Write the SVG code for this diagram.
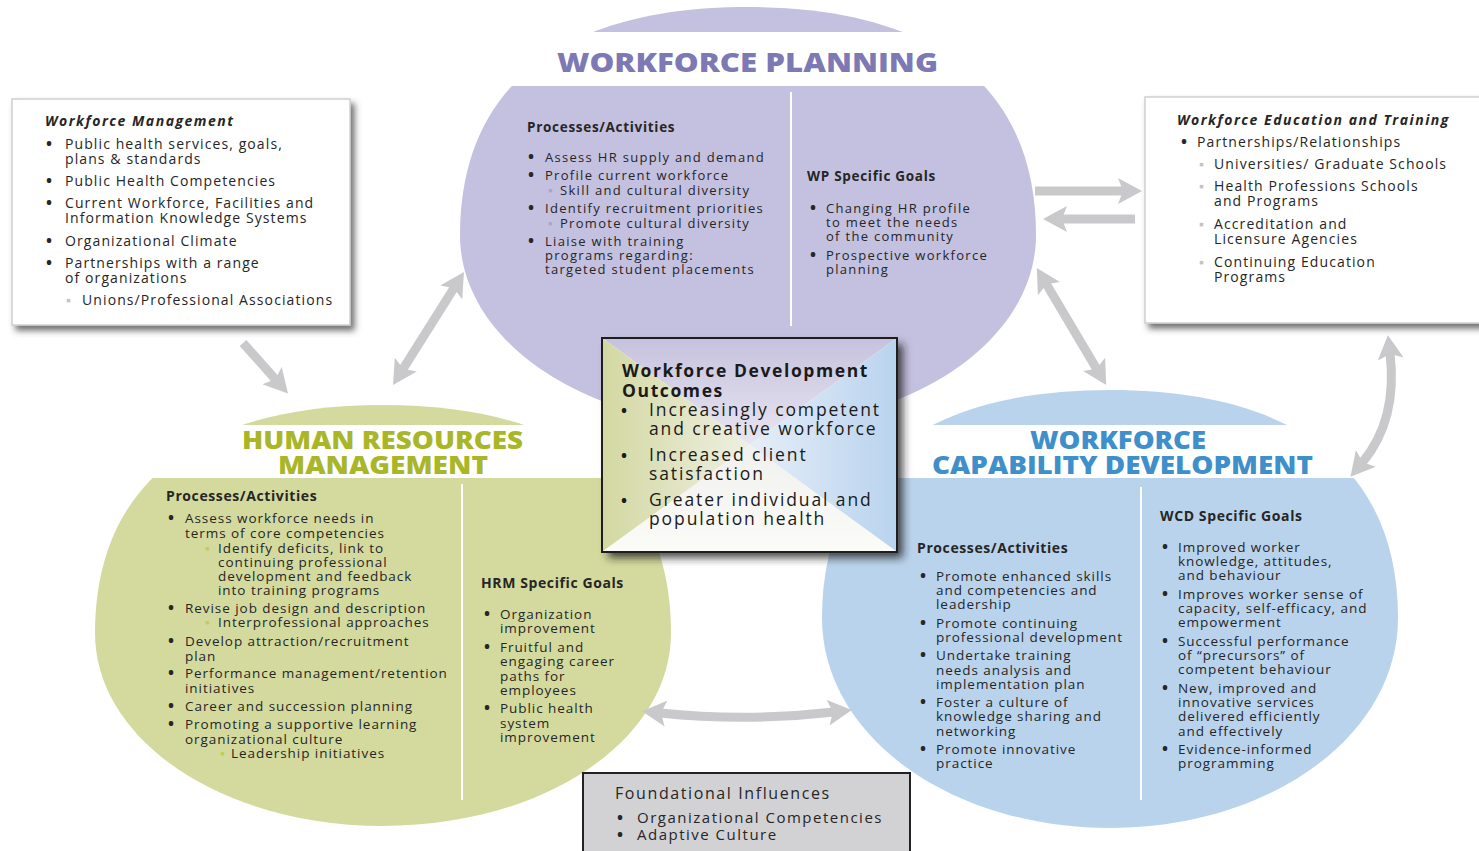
<svg xmlns="http://www.w3.org/2000/svg" width="1479" height="851" viewBox="0 0 1479 851">
  <defs>
    <style>
      text { font-family: "Open Sans", "Liberation Sans", sans-serif; fill: #262626; }
      .ttl { font-weight: 800; }
      .wp-ttl { fill: #7d79b5; font-size: 27px; }
      .hrm-ttl { fill: #a9b628; font-size: 25px; }
      .wcd-ttl { fill: #3f8fcb; font-size: 25px; }
      .box { font-size: 14px; letter-spacing: 1.1px; }
      .box-h { font-size: 14px; font-weight: 700; font-style: italic; letter-spacing: 1.5px; }
      .wp { font-size: 13px; letter-spacing: 1.3px; }
      .wp-h { font-size: 13.5px; font-weight: 700; letter-spacing: 0.7px; }
      .bd { font-size: 13.5px; letter-spacing: 0.95px; }
      .bd-h { font-size: 14px; font-weight: 700; letter-spacing: 0.6px; }
      .out { font-size: 17.5px; letter-spacing: 1.9px; fill: #1a1a1a; }
      .out-h { font-size: 17.5px; font-weight: 700; letter-spacing: 1.6px; fill: #1a1a1a; }
      .fnd-h { font-size: 16px; letter-spacing: 1.6px; }
      .fnd { font-size: 15px; letter-spacing: 1.5px; }
      text.b { font-weight: 700; font-size: 16px; letter-spacing: 0; }
      .sub-wp { fill: #a9a5cc; }
      .sub-hrm { fill: #c3cc55; }
      .sub-grey { fill: #c4c4c4; }
      .divider { stroke: #ffffff; stroke-width: 2; }
      .arrow { fill: none; stroke: #c9c9cb; stroke-width: 9; }
    </style>
    <filter id="shadow" x="-10%" y="-10%" width="125%" height="130%">
      <feDropShadow dx="4" dy="5" stdDeviation="3" flood-color="#444" flood-opacity="0.75"/>
    </filter>
    <filter id="shadowDark" x="-10%" y="-10%" width="125%" height="130%">
      <feDropShadow dx="6" dy="6" stdDeviation="4" flood-color="#222" flood-opacity="0.8"/>
    </filter>
    <marker id="head" viewBox="0 0 24 26" refX="6" refY="13" markerWidth="24" markerHeight="26" markerUnits="userSpaceOnUse" orient="auto-start-reverse">
      <path d="M0,0 L24,13 L0,26 L5,13 Z" fill="#c9c9cb"/>
    </marker>
    <!-- title bands cut through each circle -->
    <clipPath id="clipWP">
      <rect x="0" y="0" width="1479" height="32"/>
      <rect x="0" y="86" width="1479" height="765"/>
    </clipPath>
    <clipPath id="clipHRM">
      <rect x="0" y="0" width="1479" height="425"/>
      <rect x="0" y="478" width="1479" height="373"/>
    </clipPath>
    <clipPath id="clipWCD">
      <rect x="0" y="0" width="1479" height="425"/>
      <rect x="0" y="478" width="1479" height="373"/>
    </clipPath>
    <linearGradient id="gLeft" x1="602" y1="0" x2="750" y2="0" gradientUnits="userSpaceOnUse">
      <stop offset="0" stop-color="#d3d8a2"/>
      <stop offset="1" stop-color="#eef0e2"/>
    </linearGradient>
    <linearGradient id="gTop" x1="0" y1="338" x2="0" y2="445" gradientUnits="userSpaceOnUse">
      <stop offset="0" stop-color="#c6c2de"/>
      <stop offset="1" stop-color="#e8e6f1"/>
    </linearGradient>
    <linearGradient id="gRight" x1="897" y1="0" x2="750" y2="0" gradientUnits="userSpaceOnUse">
      <stop offset="0" stop-color="#b9d3ee"/>
      <stop offset="1" stop-color="#e6eef8"/>
    </linearGradient>
    <linearGradient id="gBottom" x1="0" y1="552" x2="0" y2="445" gradientUnits="userSpaceOnUse">
      <stop offset="0" stop-color="#fbfbf8"/>
      <stop offset="1" stop-color="#f0f0ee"/>
    </linearGradient>
  </defs>

  <rect width="1479" height="851" fill="#ffffff"/>

  <!-- Workforce Planning -->
  <g id="workforce-planning">
    <path clip-path="url(#clipWP)" fill="#c4c0df" d="M460,235 C460,87 561,7 748,7 C935,7 1036,87 1036,235 C1036,342 909,427 748,427 C587,427 460,342 460,235 Z"/>
    <line class="divider" x1="791" y1="92" x2="791" y2="326"/>
    <text class="ttl wp-ttl" x="557" y="72" textLength="381" lengthAdjust="spacingAndGlyphs">WORKFORCE PLANNING</text>
    <text class="wp-h" x="527" y="132">Processes/Activities</text>
    <g class="wp">
      <text class="b" x="528" y="162">•</text><text x="545" y="162">Assess HR supply and demand</text>
      <text class="b" x="528" y="180">•</text><text x="545" y="180">Profile current workforce</text>
      <text class="sub-wp" x="548" y="195">▪</text><text x="560" y="195">Skill and cultural diversity</text>
      <text class="b" x="528" y="213">•</text><text x="545" y="213">Identify recruitment priorities</text>
      <text class="sub-wp" x="548" y="228">▪</text><text x="560" y="228">Promote cultural diversity</text>
      <text class="b" x="528" y="246">•</text><text x="545" y="246">Liaise with training</text>
      <text x="545" y="260">programs regarding:</text>
      <text x="545" y="274">targeted student placements</text>
    </g>
    <text class="wp-h" x="807" y="181">WP Specific Goals</text>
    <g class="wp">
      <text class="b" x="810" y="213">•</text><text x="826" y="213">Changing HR profile</text>
      <text x="826" y="227">to meet the needs</text>
      <text x="826" y="241">of the community</text>
      <text class="b" x="810" y="260">•</text><text x="826" y="260">Prospective workforce</text>
      <text x="826" y="274">planning</text>
    </g>
  </g>

  <!-- Human Resources Management -->
  <g id="human-resources-management">
    <path clip-path="url(#clipHRM)" fill="#d4da9e" d="M95,633 C95,485 196,405 383,405 C570,405 671,485 671,633 C671,740 544,826 383,826 C222,826 95,740 95,633 Z"/>
    <line class="divider" x1="462" y1="484" x2="462" y2="800"/>
    <text class="ttl hrm-ttl" x="242" y="449" textLength="281" lengthAdjust="spacingAndGlyphs">HUMAN RESOURCES</text>
    <text class="ttl hrm-ttl" x="278" y="474" textLength="210" lengthAdjust="spacingAndGlyphs">MANAGEMENT</text>
    <text class="bd-h" x="166" y="501">Processes/Activities</text>
    <g class="bd">
      <text class="b" x="168" y="523">•</text><text x="185" y="523">Assess workforce needs in</text>
      <text x="185" y="538">terms of core competencies</text>
      <text class="sub-hrm" x="205" y="553">▪</text><text x="218" y="553">Identify deficits, link to</text>
      <text x="218" y="567">continuing professional</text>
      <text x="218" y="581">development and feedback</text>
      <text x="218" y="595">into training programs</text>
      <text class="b" x="168" y="613">•</text><text x="185" y="613">Revise job design and description</text>
      <text class="sub-hrm" x="205" y="627">▪</text><text x="218" y="627">Interprofessional approaches</text>
      <text class="b" x="168" y="646">•</text><text x="185" y="646">Develop attraction/recruitment</text>
      <text x="185" y="661">plan</text>
      <text class="b" x="168" y="678">•</text><text x="185" y="678">Performance management/retention</text>
      <text x="185" y="693">initiatives</text>
      <text class="b" x="168" y="711">•</text><text x="185" y="711">Career and succession planning</text>
      <text class="b" x="168" y="729">•</text><text x="185" y="729">Promoting a supportive learning</text>
      <text x="185" y="744">organizational culture</text>
      <text class="sub-hrm" x="220" y="758">▪</text><text x="231" y="758">Leadership initiatives</text>
    </g>
    <text class="bd-h" x="481" y="588">HRM Specific Goals</text>
    <g class="bd">
      <text class="b" x="484" y="619">•</text><text x="500" y="619">Organization</text>
      <text x="500" y="633">improvement</text>
      <text class="b" x="484" y="652">•</text><text x="500" y="652">Fruitful and</text>
      <text x="500" y="666">engaging career</text>
      <text x="500" y="681">paths for</text>
      <text x="500" y="695">employees</text>
      <text class="b" x="484" y="713">•</text><text x="500" y="713">Public health</text>
      <text x="500" y="728">system</text>
      <text x="500" y="742">improvement</text>
    </g>
  </g>

  <!-- Workforce Capability Development -->
  <g id="workforce-capability-development">
    <path clip-path="url(#clipWCD)" fill="#bad3ec" d="M822,618 C822,470 923,390 1110,390 C1297,390 1398,470 1398,618 C1398,735 1271,828 1110,828 C949,828 822,735 822,618 Z"/>
    <line class="divider" x1="1141" y1="487" x2="1141" y2="800"/>
    <text class="ttl wcd-ttl" x="1030" y="449" textLength="176" lengthAdjust="spacingAndGlyphs">WORKFORCE</text>
    <text class="ttl wcd-ttl" x="932" y="474" textLength="381" lengthAdjust="spacingAndGlyphs">CAPABILITY DEVELOPMENT</text>
    <text class="bd-h" x="917" y="553">Processes/Activities</text>
    <g class="bd">
      <text class="b" x="920" y="581">•</text><text x="936" y="581">Promote enhanced skills</text>
      <text x="936" y="595">and competencies and</text>
      <text x="936" y="609">leadership</text>
      <text class="b" x="920" y="628">•</text><text x="936" y="628">Promote continuing</text>
      <text x="936" y="642">professional development</text>
      <text class="b" x="920" y="660">•</text><text x="936" y="660">Undertake training</text>
      <text x="936" y="675">needs analysis and</text>
      <text x="936" y="689">implementation plan</text>
      <text class="b" x="920" y="707">•</text><text x="936" y="707">Foster a culture of</text>
      <text x="936" y="721">knowledge sharing and</text>
      <text x="936" y="736">networking</text>
      <text class="b" x="920" y="754">•</text><text x="936" y="754">Promote innovative</text>
      <text x="936" y="768">practice</text>
    </g>
    <text class="bd-h" x="1160" y="521">WCD Specific Goals</text>
    <g class="bd">
      <text class="b" x="1162" y="552">•</text><text x="1178" y="552">Improved worker</text>
      <text x="1178" y="566">knowledge, attitudes,</text>
      <text x="1178" y="580">and behaviour</text>
      <text class="b" x="1162" y="599">•</text><text x="1178" y="599">Improves worker sense of</text>
      <text x="1178" y="613">capacity, self-efficacy, and</text>
      <text x="1178" y="627">empowerment</text>
      <text class="b" x="1162" y="646">•</text><text x="1178" y="646">Successful performance</text>
      <text x="1178" y="660">of “precursors” of</text>
      <text x="1178" y="674">competent behaviour</text>
      <text class="b" x="1162" y="693">•</text><text x="1178" y="693">New, improved and</text>
      <text x="1178" y="707">innovative services</text>
      <text x="1178" y="721">delivered efficiently</text>
      <text x="1178" y="736">and effectively</text>
      <text class="b" x="1162" y="754">•</text><text x="1178" y="754">Evidence-informed</text>
      <text x="1178" y="768">programming</text>
    </g>
  </g>

  <!-- connectors -->
  <g id="connectors">
    <path class="arrow" marker-end="url(#head)" d="M243,343 L276,380"/>
    <path class="arrow" marker-start="url(#head)" marker-end="url(#head)" d="M402.6,369.7 L454.4,287.3"/>
    <path class="arrow" marker-end="url(#head)" d="M1035,191 L1124,191"/>
    <path class="arrow" marker-end="url(#head)" d="M1135,219 L1061,219"/>
    <path class="arrow" marker-start="url(#head)" marker-end="url(#head)" d="M1046,283.5 L1097,369.5"/>
    <path class="arrow" marker-start="url(#head)" marker-end="url(#head)" d="M1390,353 Q1398,420 1362,463"/>
    <path class="arrow" marker-start="url(#head)" marker-end="url(#head)" d="M660,713 Q747,722 834,712"/>
  </g>

  <!-- Workforce Management -->
  <g id="workforce-management">
    <rect x="12" y="99" width="338" height="226" fill="#ffffff" stroke="#cfcfcf" stroke-width="1.5" filter="url(#shadow)"/>
    <text class="box-h" x="45" y="126">Workforce Management</text>
    <g class="box">
      <text class="b" x="46" y="149">•</text><text x="65" y="149">Public health services, goals,</text>
      <text x="65" y="164">plans &amp; standards</text>
      <text class="b" x="46" y="186">•</text><text x="65" y="186">Public Health Competencies</text>
      <text class="b" x="46" y="208">•</text><text x="65" y="208">Current Workforce, Facilities and</text>
      <text x="65" y="223">Information Knowledge Systems</text>
      <text class="b" x="46" y="246">•</text><text x="65" y="246">Organizational Climate</text>
      <text class="b" x="46" y="268">•</text><text x="65" y="268">Partnerships with a range</text>
      <text x="65" y="283">of organizations</text>
      <text class="sub-grey" x="66" y="305">▪</text><text x="82" y="305">Unions/Professional Associations</text>
    </g>
  </g>

  <!-- Workforce Education and Training -->
  <g id="workforce-education-training">
    <rect x="1145" y="97" width="340" height="226" fill="#ffffff" stroke="#cfcfcf" stroke-width="1.5" filter="url(#shadow)"/>
    <text class="box-h" x="1177" y="125">Workforce Education and Training</text>
    <g class="box">
      <text class="b" x="1181" y="147">•</text><text x="1197" y="147">Partnerships/Relationships</text>
      <text class="sub-grey" x="1199" y="169">▪</text><text x="1214" y="169">Universities/ Graduate Schools</text>
      <text class="sub-grey" x="1199" y="191">▪</text><text x="1214" y="191">Health Professions Schools</text>
      <text x="1214" y="206">and Programs</text>
      <text class="sub-grey" x="1199" y="229">▪</text><text x="1214" y="229">Accreditation and</text>
      <text x="1214" y="244">Licensure Agencies</text>
      <text class="sub-grey" x="1199" y="267">▪</text><text x="1214" y="267">Continuing Education</text>
      <text x="1214" y="282">Programs</text>
    </g>
  </g>

  <!-- Workforce Development Outcomes -->
  <g id="workforce-development-outcomes">
    <rect x="602" y="338" width="295" height="214" fill="#ffffff" filter="url(#shadowDark)"/>
    <polygon points="602,338 897,338 749.5,445" fill="url(#gTop)"/>
    <polygon points="602,338 749.5,445 602,552" fill="url(#gLeft)"/>
    <polygon points="897,338 897,552 749.5,445" fill="url(#gRight)"/>
    <polygon points="602,552 749.5,445 897,552" fill="url(#gBottom)"/>
    <rect x="602" y="338" width="295" height="214" fill="none" stroke="#1e1e1e" stroke-width="2"/>
    <text class="out-h" x="622" y="377">Workforce Development</text>
    <text class="out-h" x="622" y="397">Outcomes</text>
    <text class="out b" x="621" y="416">•</text><text class="out" x="649" y="416">Increasingly competent</text>
    <text class="out" x="649" y="435">and creative workforce</text>
    <text class="out b" x="621" y="461">•</text><text class="out" x="649" y="461">Increased client</text>
    <text class="out" x="649" y="480">satisfaction</text>
    <text class="out b" x="621" y="506">•</text><text class="out" x="649" y="506">Greater individual and</text>
    <text class="out" x="649" y="525">population health</text>
  </g>

  <!-- Foundational Influences -->
  <g id="foundational-influences">
    <rect x="583" y="773" width="327" height="90" fill="#d2d2d4" stroke="#222" stroke-width="2"/>
    <text class="fnd-h" x="615" y="799">Foundational Influences</text>
    <text class="fnd b" x="617" y="823">•</text><text class="fnd" x="637" y="823">Organizational Competencies</text>
    <text class="fnd b" x="617" y="840">•</text><text class="fnd" x="637" y="840">Adaptive Culture</text>
  </g>
</svg>
